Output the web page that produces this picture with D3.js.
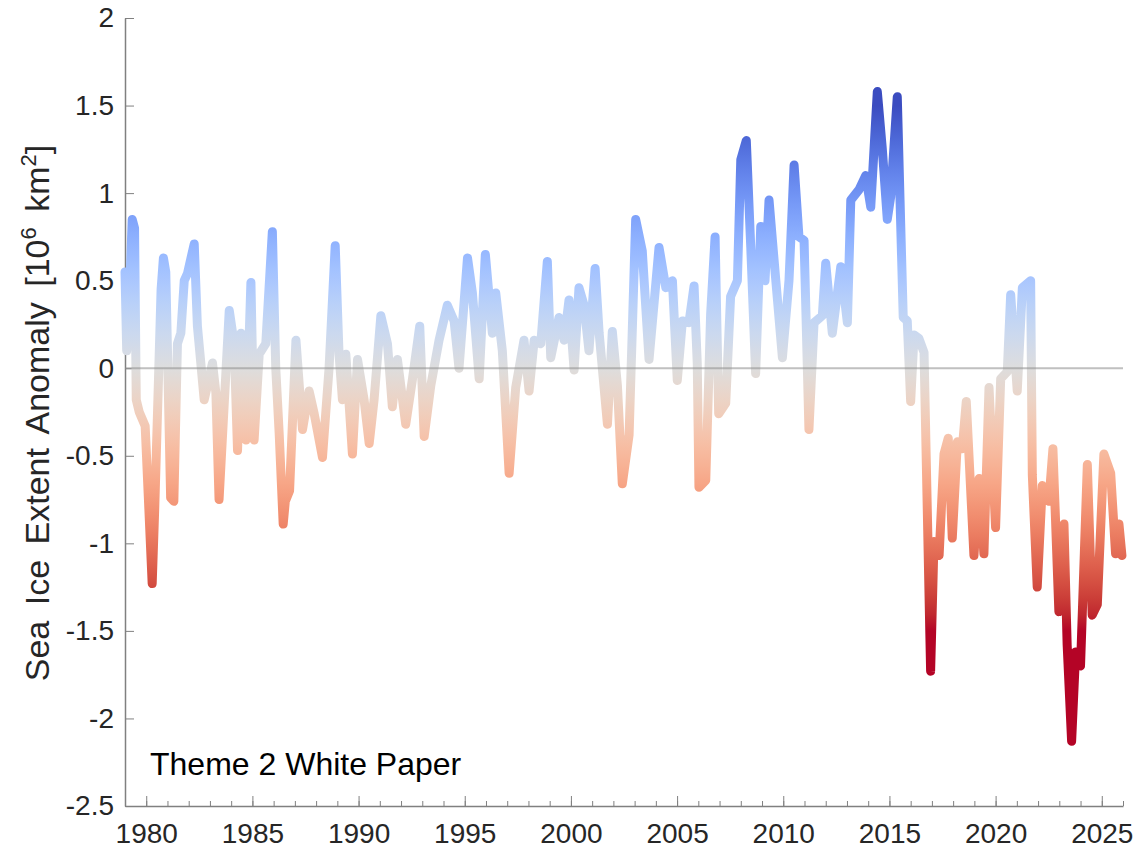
<!DOCTYPE html>
<html>
<head>
<meta charset="utf-8">
<script src="https://cdn.jsdelivr.net/npm/d3@7"></script>
<style>
  body { margin: 0; background: #fff; }
  svg { display: block; }
  .axis text { font-family: "Liberation Sans", Arial, sans-serif; fill: #262626; }
  .axis path, .axis line { stroke: #808080; }
</style>
</head>
<body>
<div id="chart"></div>
<script>
// Antarctic sea ice extent anomaly
const years = [
  1979.00, 1979.08, 1979.22, 1979.34, 1979.45, 1979.53, 1979.67, 1979.95,
  1980.28, 1980.40, 1980.70, 1980.81, 1980.92, 1981.15, 1981.30, 1981.47,
  1981.63, 1981.79, 1981.94, 1982.26, 1982.41, 1982.73, 1983.12, 1983.28,
  1983.43, 1983.91, 1984.14, 1984.30, 1984.46, 1984.69, 1984.93, 1985.08,
  1985.32, 1985.63, 1985.94, 1986.10, 1986.26, 1986.45, 1986.55, 1986.75,
  1987.05, 1987.36, 1987.67, 1987.91, 1988.30, 1988.61, 1988.90, 1989.08,
  1989.24, 1989.40, 1989.71, 1989.95, 1990.26, 1990.50, 1990.73, 1991.05,
  1991.36, 1991.59, 1991.83, 1992.22, 1992.54, 1992.88, 1993.09, 1993.40,
  1993.79, 1994.18, 1994.50, 1994.73, 1995.13, 1995.36, 1995.68, 1995.97,
  1996.30, 1996.46, 1996.77, 1997.09, 1997.40, 1997.79, 1998.03, 1998.27,
  1998.58, 1998.89, 1999.05, 1999.44, 1999.68, 1999.91, 2000.15, 2000.38,
  2000.62, 2000.85, 2001.14, 2001.33, 2001.72, 2001.95, 2002.19, 2002.42,
  2002.74, 2003.05, 2003.36, 2003.68, 2004.15, 2004.47, 2004.78, 2005.01,
  2005.25, 2005.56, 2005.80, 2005.95, 2006.03, 2006.35, 2006.58, 2006.79,
  2006.96, 2007.29, 2007.52, 2007.84, 2008.00, 2008.26, 2008.47, 2008.70,
  2008.94, 2009.14, 2009.33, 2009.65, 2009.96, 2010.27, 2010.51, 2010.74,
  2010.98, 2011.21, 2011.45, 2011.84, 2012.00, 2012.31, 2012.71, 2013.02,
  2013.18, 2013.57, 2013.88, 2014.12, 2014.43, 2014.66, 2014.90, 2015.06,
  2015.37, 2015.50, 2015.65, 2015.84, 2016.00, 2016.16, 2016.39, 2016.63,
  2016.94, 2017.10, 2017.34, 2017.57, 2017.77, 2017.96, 2018.20, 2018.43,
  2018.62, 2018.98, 2019.22, 2019.45, 2019.69, 2020.00, 2020.24, 2020.55,
  2020.71, 2021.02, 2021.26, 2021.65, 2021.73, 2021.96, 2022.20, 2022.51,
  2022.70, 2022.98, 2023.22, 2023.37, 2023.58, 2023.77, 2024.00, 2024.32,
  2024.55, 2024.79, 2025.10, 2025.42, 2025.65, 2025.81, 2025.95
];

const anomaly = [
   0.55,  0.10,  0.45,  0.85,  0.80, -0.18, -0.25, -0.33,
  -1.23, -0.80,  0.45,  0.63,  0.55, -0.74, -0.76,  0.14,
   0.20,  0.50,  0.54,  0.71,  0.24, -0.18,  0.03, -0.14,
  -0.75,  0.33,  0.14, -0.47,  0.20, -0.41,  0.49, -0.41,
   0.08,  0.14,  0.78,  0.00, -0.37, -0.89, -0.76, -0.70,
   0.16, -0.35, -0.13, -0.26, -0.51,  0.00,  0.70,  0.08,
  -0.18,  0.08, -0.49,  0.05, -0.18, -0.43, -0.18,  0.30,
   0.14, -0.22,  0.05, -0.32, -0.06,  0.24, -0.39, -0.10,
   0.16,  0.36,  0.27,  0.00,  0.63,  0.43, -0.06,  0.65,
   0.20,  0.43,  0.10, -0.60, -0.11,  0.16, -0.13,  0.16,
   0.14,  0.61,  0.06,  0.29,  0.16,  0.39, -0.01,  0.46,
   0.36,  0.10,  0.57,  0.20, -0.32,  0.21, -0.10, -0.66,
  -0.38,  0.85,  0.67,  0.05,  0.69,  0.46,  0.50, -0.07,
   0.27,  0.26,  0.47,  0.03, -0.68, -0.64,  0.31,  0.75,
  -0.26, -0.20,  0.41,  0.50,  1.19,  1.30,  0.69, -0.03,
   0.81,  0.50,  0.96,  0.50,  0.06,  0.50,  1.16,  0.75,
   0.73, -0.35,  0.26,  0.30,  0.60,  0.20,  0.58,  0.26,
   0.96,  1.02,  1.10,  0.92,  1.58,  1.26,  0.85,  0.98,
   1.55,  0.96,  0.29,  0.27, -0.19,  0.19,  0.17,  0.09,
  -1.73, -0.99, -1.07, -0.49, -0.40, -0.97, -0.42, -0.46,
  -0.19, -1.07, -0.63, -1.06, -0.11, -0.91, -0.06, -0.02,
   0.42, -0.13,  0.46,  0.50, -0.61, -1.25, -0.67, -0.76,
  -0.46, -1.39, -0.89, -1.58, -2.13, -1.62, -1.70, -0.55,
  -1.41, -1.35, -0.49, -0.60, -1.06, -0.89, -1.07
];

const yTickValues = [-2.5, -2, -1.5, -1, -0.5, 0, 0.5, 1, 1.5, 2];
const xTickValues = [1980, 1985, 1990, 1995, 2000, 2005, 2010, 2015, 2020, 2025];
const xMinorValues = d3.range(1979, 2027);
const yLabelParts = ["Sea Ice Extent Anomaly [10", "6", " km", "2", "]"];
const noteText = "Theme 2 White Paper";

// matplotlib "coolwarm" colour table
const coolwarm = [
  "#3b4cc0", "#445acc", "#4d68d7", "#5775e1", "#6282ea", "#6c8ef1", "#779af7", "#82a5fb",
  "#8db0fe", "#98b9ff", "#a3c2ff", "#aec9fd", "#b8d0f9", "#c2d5f4", "#ccd9ee", "#d5dbe6",
  "#dddddd", "#e5d8d1", "#ecd3c5", "#f1ccb9", "#f5c4ad", "#f7bba0", "#f7b194", "#f7a687",
  "#f49a7b", "#f18d6f", "#ec7f63", "#e57058", "#de604d", "#d55042", "#cb3e38", "#c0282f",
  "#b40426"
];

class AnomalyChart {
  constructor(_config) {
    this.config = {
      parentElement: _config.parentElement,
      containerWidth: 1143,
      containerHeight: 851,
      margin: { top: 18, right: 20, bottom: 45, left: 125 },
      colorLimit: 1.5,
    };
    this.data = years.map((d, i) => ({ year: d, value: anomaly[i] }));
    this.initVis();
    this.renderVis();
  }

  initVis() {
    let vis = this;
    vis.width = vis.config.containerWidth - vis.config.margin.left - vis.config.margin.right;
    vis.height = vis.config.containerHeight - vis.config.margin.top - vis.config.margin.bottom;

    vis.svg = d3.select(vis.config.parentElement)
      .append("svg")
      .attr("width", vis.config.containerWidth)
      .attr("height", vis.config.containerHeight)
      .style("background", "#fff");

    vis.g = vis.svg.append("g")
      .attr("transform", `translate(${vis.config.margin.left},${vis.config.margin.top})`);

    vis.xScale = d3.scaleLinear().domain([1979, 2026]).range([0, vis.width]);
    vis.yScale = d3.scaleLinear().domain([-2.5, 2]).range([vis.height, 0]);
  }

  renderVis() {
    let vis = this;
    let lim = vis.config.colorLimit;

    // vertical gradient so the stroke colour follows the value
    let grad = vis.svg.append("defs").append("linearGradient")
      .attr("id", "coolwarm")
      .attr("gradientUnits", "userSpaceOnUse")
      .attr("x1", 0).attr("x2", 0)
      .attr("y1", vis.yScale(lim)).attr("y2", vis.yScale(-lim));
    grad.selectAll("stop")
      .data(coolwarm)
      .join("stop")
      .attr("offset", (d, i) => i / (coolwarm.length - 1))
      .attr("stop-color", (d) => d);

    // minor year ticks on the x axis
    vis.g.append("g")
      .attr("class", "axis")
      .attr("transform", `translate(0,${vis.height})`)
      .call(d3.axisBottom(vis.xScale).tickValues(xMinorValues).tickFormat("")
        .tickSizeInner(-5).tickSizeOuter(0))
      .call((g) => g.select(".domain").remove());

    vis.g.append("g")
      .attr("class", "axis")
      .attr("transform", `translate(0,${vis.height})`)
      .call(d3.axisBottom(vis.xScale).tickValues(xTickValues).tickFormat((d) => d)
        .tickSizeInner(-10).tickSizeOuter(0).tickPadding(17))
      .call((g) => g.selectAll("text").style("font-size", "28px"))
      .call((g) => g.select(".domain").attr("stroke-width", 1.5));

    vis.g.append("g")
      .attr("class", "axis")
      .call(d3.axisLeft(vis.yScale).tickValues(yTickValues).tickFormat((d) => String(d))
        .tickSizeInner(-9).tickSizeOuter(0).tickPadding(11))
      .call((g) => g.selectAll("text").style("font-size", "28px"))
      .call((g) => g.select(".domain").attr("stroke-width", 1.5));

    let line = d3.line()
      .x((d) => vis.xScale(d.year))
      .y((d) => vis.yScale(d.value));

    vis.g.append("path")
      .datum(vis.data)
      .attr("d", line)
      .attr("fill", "none")
      .attr("stroke", "url(#coolwarm)")
      .attr("stroke-width", 9)
      .attr("stroke-linejoin", "round")
      .attr("stroke-linecap", "round");

    // zero reference line, drawn over the data
    vis.g.append("line")
      .attr("x1", 0).attr("x2", vis.width)
      .attr("y1", vis.yScale(0)).attr("y2", vis.yScale(0))
      .attr("stroke", "#8c8c8c")
      .attr("stroke-opacity", 0.55)
      .attr("stroke-width", 2);

    // y axis title with superscripts
    let yTitle = vis.svg.append("text")
      .attr("transform", `translate(49,413) rotate(-90)`)
      .attr("text-anchor", "middle")
      .style("font-family", '"Liberation Sans", Arial, sans-serif')
      .style("font-size", "34px")
      .style("word-spacing", "6px")
      .attr("fill", "#262626");
    yTitle.selectAll("tspan")
      .data(yLabelParts)
      .join("tspan")
      .text((d) => d)
      .style("font-size", (d, i) => (i % 2 === 1 ? "22px" : null))
      .attr("dy", (d, i) => (i === 0 ? 0 : i % 2 === 1 ? -13 : 13));

    vis.svg.append("text")
      .attr("x", 150)
      .attr("y", 775)
      .style("font-family", '"Liberation Sans", Arial, sans-serif')
      .style("font-size", "32px")
      .attr("fill", "#000")
      .text(noteText);
  }
}

let chart = new AnomalyChart({ parentElement: "#chart" });
</script>
</body>
</html>
